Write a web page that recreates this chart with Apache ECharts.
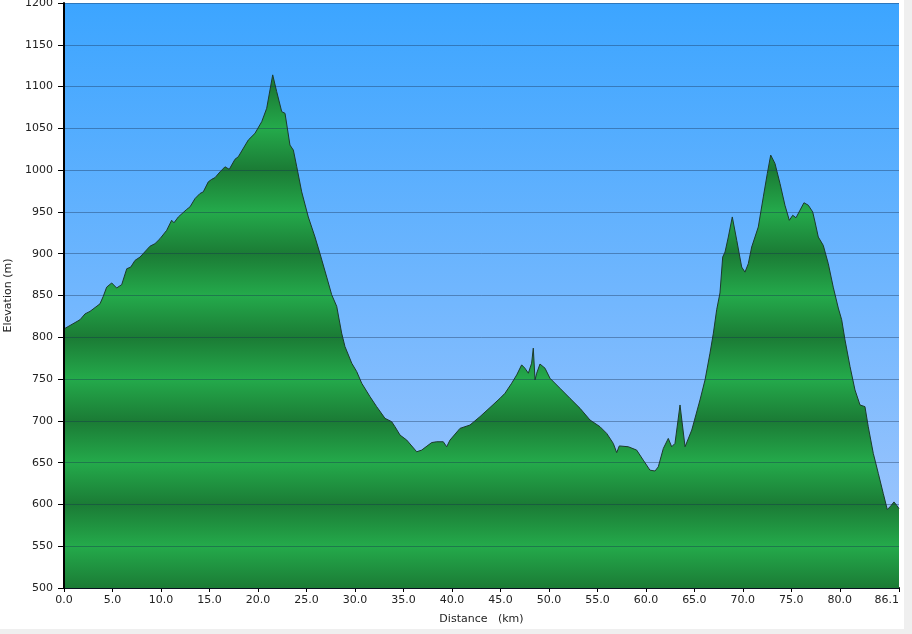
<!DOCTYPE html>
<html>
<head>
<meta charset="utf-8">
<script src="https://cdn.jsdelivr.net/npm/echarts@6/dist/echarts.min.js"></script>
<style>
html,body{margin:0;padding:0;background:#fff;}
#chart{width:912px;height:634px;}
</style>
</head>
<body>
<div id="chart"></div>
<script>
const distanceKm = [0, 1.65, 2.17, 2.68, 3.71, 4.05, 4.40, 4.92, 5.43, 5.95, 6.47, 6.88, 7.32, 7.84, 8.87, 9.38, 9.90, 10.59, 11.10, 11.34, 11.79, 12.65, 12.99, 13.51, 14.02, 14.36, 14.88, 15.23, 15.57, 16.09, 16.60, 17.04, 17.63, 17.97, 19.00, 19.69, 20.39, 20.90, 21.24, 21.52, 21.93, 22.45, 22.79, 23.30, 23.65, 24.00, 24.51, 25.19, 25.88, 26.40, 27.09, 27.60, 28.12, 28.63, 28.97, 29.67, 30.18, 30.70, 31.55, 32.24, 33.10, 33.79, 34.13, 34.65, 35.34, 36.37, 36.88, 37.91, 38.43, 39.11, 39.46, 39.80, 40.83, 41.86, 42.89, 43.93, 44.96, 45.47, 46.16, 46.68, 47.19, 47.53, 47.88, 48.22, 48.39, 48.57, 48.74, 49.08, 49.60, 50.11, 51.14, 52.17, 53.21, 54.24, 55.27, 55.96, 56.64, 56.99, 57.26, 58.19, 59.05, 59.73, 60.42, 60.94, 61.28, 61.80, 62.31, 62.66, 63.00, 63.52, 64.04, 64.73, 65.58, 66.10, 66.61, 66.96, 67.30, 67.64, 67.92, 68.16, 68.50, 68.91, 69.37, 69.88, 70.22, 70.56, 70.91, 71.59, 72.11, 72.52, 72.87, 73.31, 73.83, 74.34, 74.79, 75.14, 75.48, 75.89, 76.30, 76.75, 77.20, 77.44, 77.78, 78.29, 78.81, 79.32, 79.84, 80.19, 80.53, 81.05, 81.56, 82.08, 82.59, 82.93, 83.45, 83.97, 84.48, 84.89, 85.17, 85.58, 85.86, 86.1];
const elevationM = [810, 821, 828, 831, 840, 849, 860, 865, 859, 863, 882, 884, 892, 896, 909, 912, 918, 928, 940, 937, 944, 953, 956, 966, 972, 974, 986, 989, 991, 998, 1004, 1001, 1013, 1016, 1036, 1044, 1058, 1074, 1096, 1114, 1094, 1070, 1068, 1030, 1024, 1004, 974, 944, 920, 900, 872, 851, 837, 805, 789, 769, 759, 745, 729, 717, 703, 699, 693, 683, 677, 663, 665, 674, 675, 675, 669, 677, 691, 695, 705, 716, 727, 733, 745, 755, 767, 763, 757, 769, 787, 749, 757, 768, 763, 751, 739, 727, 715, 701, 693, 685, 673, 662, 670, 669, 665, 653, 641, 640, 645, 667, 679, 669, 673, 719, 669, 689, 725, 749, 781, 805, 833, 853, 896, 902, 920, 944, 916, 884, 878, 888, 908, 932, 968, 996, 1018, 1008, 984, 958, 940, 946, 943, 952, 961, 958, 950, 938, 920, 910, 888, 860, 835, 821, 797, 765, 737, 719, 717, 693, 661, 637, 613, 594, 597, 603, 599, 595];
const xTickValues = [0, 5, 10, 15, 20, 25, 30, 35, 40, 45, 50, 55, 60, 65, 70, 75, 80, 86.1];
const yMin = 500, yMax = 1200, yStep = 50;

const chart = echarts.init(document.getElementById('chart'), null, {renderer: 'canvas'});
const FONT = 'DejaVu Sans, Verdana, sans-serif';
const seriesData = distanceKm.map((d, i) => [d, elevationM[i]]);

function greenStops() {
  const stops = [];
  for (let v = yMax; v >= yMin; v -= yStep) {
    const dark = (v % 100) === 0;
    stops.push({offset: (yMax - v) / (yMax - yMin), color: dark ? '#1b7b35' : '#24aa4b'});
  }
  return stops;
}

function buildOption(y0, y1) {
  return {
    animation: false,
    grid: {
      left: 64, right: 13, top: 3, bottom: 46,
      containLabel: false, outerBoundsMode: 'none',
      show: true, borderWidth: 0,
      backgroundColor: new echarts.graphic.LinearGradient(0, 0, 0, 1, [
        {offset: 0, color: '#3ca5ff'},
        {offset: 1, color: '#a6c8fd'}
      ])
    },
    xAxis: {
      type: 'value', min: 0, max: 86.1,
      name: 'Distance   (km)', nameLocation: 'middle', nameGap: 26,
      nameTextStyle: {fontFamily: FONT, fontSize: 11, color: '#222'},
      axisLine: {show: true, onZero: false, lineStyle: {color: '#000', width: 2}},
      axisTick: {show: true, length: 4, customValues: xTickValues, lineStyle: {color: '#000'}},
      axisLabel: {
        customValues: xTickValues, fontFamily: FONT, fontSize: 11, color: '#222', margin: 7,
        formatter: v => Number(v).toFixed(1), alignMaxLabel: 'right'
      },
      splitLine: {show: false}
    },
    yAxis: {
      type: 'value', min: yMin, max: yMax, interval: yStep, z: 5,
      name: 'Elevation (m)', nameLocation: 'middle', nameGap: 49, nameRotate: 90,
      nameTextStyle: {fontFamily: FONT, fontSize: 11, color: '#222'},
      axisLine: {show: true, lineStyle: {color: '#000', width: 2}},
      axisTick: {show: true, length: 6, lineStyle: {color: '#000'}},
      axisLabel: {fontFamily: FONT, fontSize: 11, color: '#222', margin: 11, formatter: v => String(v)},
      splitLine: {show: true, lineStyle: {color: 'rgba(20,45,80,0.38)', width: 1}}
    },
    graphic: [
      {type: 'rect', left: 904, top: 0, shape: {width: 8, height: 634}, style: {fill: '#efefef'}, silent: true},
      {type: 'rect', left: 0, top: 629, shape: {width: 912, height: 5}, style: {fill: '#efefef'}, silent: true}
    ],
    series: [{
      type: 'line', data: seriesData, showSymbol: false, z: 2,
      lineStyle: {color: '#1c3a2c', width: 1},
      areaStyle: {
        origin: 'start', opacity: 1,
        color: new echarts.graphic.LinearGradient(0, y0, 0, y1, greenStops(), true)
      }
    }]
  };
}

chart.setOption(buildOption(3, 588));
const pTop = chart.convertToPixel({gridIndex: 0}, [0, yMax])[1];
const pBot = chart.convertToPixel({gridIndex: 0}, [0, yMin])[1];
chart.setOption(buildOption(pTop, pBot), true);
</script>
</body>
</html>
